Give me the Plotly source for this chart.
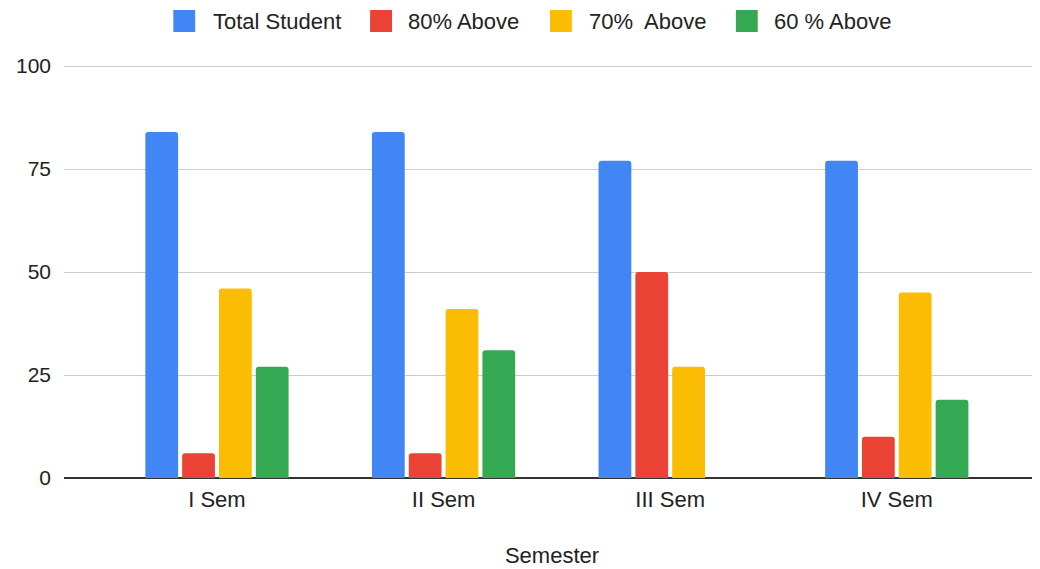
import plotly.graph_objects as go

categories = ["I Sem", "II Sem", "III Sem", "IV Sem"]
series_names = ["Total Student", "80% Above", "70%\u00a0 Above", "60 % Above"]
total_student = [84, 84, 77, 77]
above_80 = [6, 6, 50, 10]
above_70 = [46, 41, 27, 45]
above_60 = [27, 31, None, 19]
y_ticks = [0, 25, 50, 75, 100]
colors = ["#4285F4", "#EA4335", "#FBBC04", "#34A853"]

# page is rendered with an 8px body margin; work in figure coords
OFF = 8
W, H = 1040, 569
L, R, T, B = 50, 8, 54, 99
FONT = "Arial, Liberation Sans, sans-serif"

fig = go.Figure()
for name, vals, col in zip(series_names, [total_student, above_80, above_70, above_60], colors):
    fig.add_trace(go.Bar(x=list(range(len(categories))), y=vals, name=name,
                         marker=dict(color=col, line=dict(width=0)), showlegend=False))

pw = W - L - R
ph = H - T - B
def px2x(px):
    return (px - OFF - L) / pw
def py2y(py):
    return (H - B - (py - OFF)) / ph

# manual legend (large rounded squares like the original), positions in page px
leg_sq = [168, 366, 547, 734]
leg_tx = [206, 402, 584, 770]
shapes = []
annotations = []
for sx, tx, name, col in zip(leg_sq, leg_tx, series_names, colors):
    shapes.append(dict(type="rect", xref="paper", yref="paper",
                       x0=px2x(sx), x1=px2x(sx + 22), y0=py2y(32), y1=py2y(10),
                       fillcolor=col, line=dict(width=0), layer="above"))
    annotations.append(dict(xref="paper", yref="paper", x=px2x(tx), y=py2y(21),
                            text=name, showarrow=False, xanchor="left", yanchor="middle",
                            font=dict(family=FONT, size=22, color="#222222")))

fig.update_layout(
    width=W, height=H,
    margin=dict(l=L, r=R, t=T, b=B, pad=0),
    paper_bgcolor="white", plot_bgcolor="white",
    barmode="group", bargap=0.35, bargroupgap=0.11,
    barcornerradius=3,
    font=dict(family=FONT, size=22, color="#222222"),
    shapes=shapes, annotations=annotations,
    xaxis=dict(
        tickmode="array", tickvals=list(range(len(categories))), ticktext=categories,
        range=[-0.675, 3.632], showgrid=False, zeroline=False, showline=False,
        ticks="", ticklabelstandoff=6, tickfont=dict(size=22),
        title=dict(text="Semester", standoff=36, font=dict(size=22, color="#222222")),
    ),
    yaxis=dict(
        range=[0, 100.97], tickmode="array", tickvals=y_ticks,
        showgrid=True, gridcolor="#cccccc", gridwidth=1,
        zeroline=True, zerolinecolor="#333333", zerolinewidth=2,
        showline=False, ticks="", ticklabelstandoff=12, tickfont=dict(size=21),
    ),
)

fig.write_html("out.html")
